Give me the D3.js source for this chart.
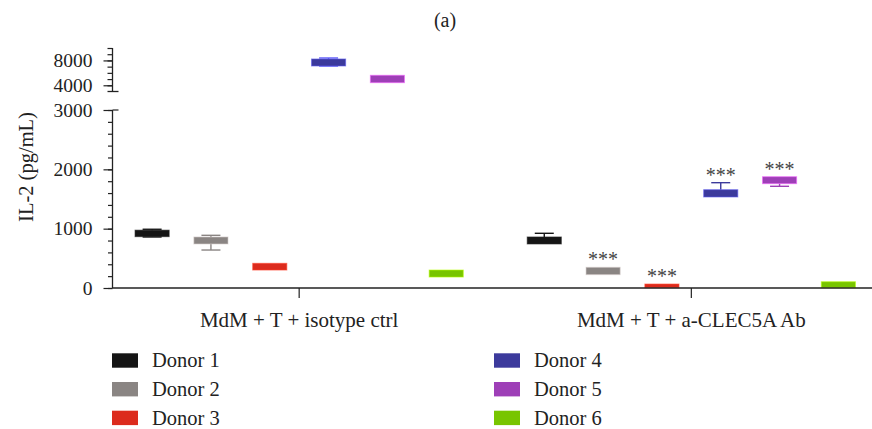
<!DOCTYPE html>
<html>
<head>
<meta charset="utf-8">
<script src="https://cdn.jsdelivr.net/npm/d3@7"></script>
<style>
  body { margin: 0; background: #fff; }
  svg { display: block; }
</style>
</head>
<body>
<svg id="chart" width="872" height="429"></svg>
<script>
// ---- data ----
const groups = ["MdM + T + isotype ctrl", "MdM + T + a-CLEC5A Ab"];
const donors = ["Donor 1", "Donor 2", "Donor 3", "Donor 4", "Donor 5", "Donor 6"];
const colors = ["#151515", "#8a8583", "#dc2b1d", "#3c3a9c", "#9e3fb7", "#78c500"];

// per group, per donor: whisker min, Q1, Q3, whisker max (pg/mL)
const wMin = [
  [860, 640, 303, 7100, 4417, 185],
  [742, 225, 5, 1534, 1714, 5]
];
const q1 = [
  [865, 742, 303, 7106, 4417, 185],
  [742, 225, 5, 1534, 1758, 5]
];
const q3 = [
  [975, 860, 416, 8233, 5609, 303],
  [860, 349, 67, 1657, 1876, 106]
];
const wMax = [
  [990, 888, 416, 8394, 5609, 303],
  [922, 349, 67, 1775, 1876, 106]
];
const signif = [
  ["", "", "", "", "", ""],
  ["", "***", "***", "***", "***", ""]
];

const lowerMajor = [0, 1000, 2000, 3000];
const lowerMinor = d3.range(0, 3001, 200);
const upperMajor = [4000, 8000];
const upperMinor = d3.range(4000, 10001, 1000);
const breakValue = 3000;

const FONT = '"Liberation Serif", "Times New Roman", Tinos, "DejaVu Serif", serif';

// ---- scales ----
const svg = d3.select("#chart");
const axisX = 112.5;
const yLow = d3.scaleLinear().domain([0, 3000]).range([288, 110]);
const yUp = d3.scaleLinear().domain([3000, 10000]).range([91.5, 48]);
const y = v => (v <= breakValue ? yLow(v) : yUp(v));

const x0 = d3.scaleBand().domain(groups).range([112.5, 878])
  .paddingInner(0.1).paddingOuter(0.026);
const x1 = d3.scaleBand().domain(donors).range([0, x0.bandwidth()])
  .paddingInner(0.42).paddingOuter(0.21);

// ---- boxes ----
const items = [];
groups.forEach((g, gi) => donors.forEach((d, di) => items.push({
  g, d, gi, di, min: wMin[gi][di], q1: q1[gi][di], q3: q3[gi][di], max: wMax[gi][di],
  sig: signif[gi][di], color: colors[di]
})));

const boxG = svg.append("g");
const capW = 19;
items.forEach(it => {
  const cx = x0(it.g) + x1(it.d) + x1.bandwidth() / 2;
  const g = boxG.append("g");
  const upper = it.q3 > breakValue;
  const wCol = upper ? d3.color(it.color).brighter(1.3) : it.color;
  if (it.max > it.q3) {
    g.append("line").attr("x1", cx).attr("x2", cx).attr("y1", y(it.max)).attr("y2", y(it.q3))
      .attr("stroke", wCol).attr("stroke-width", 1.4);
    g.append("line").attr("x1", cx - capW / 2).attr("x2", cx + capW / 2)
      .attr("y1", y(it.max)).attr("y2", y(it.max)).attr("stroke", wCol).attr("stroke-width", 1.4);
  }
  if (it.min < it.q1) {
    g.append("line").attr("x1", cx).attr("x2", cx).attr("y1", y(it.q1)).attr("y2", y(it.min))
      .attr("stroke", wCol).attr("stroke-width", 1.4);
    g.append("line").attr("x1", cx - capW / 2).attr("x2", cx + capW / 2)
      .attr("y1", y(it.min)).attr("y2", y(it.min)).attr("stroke", wCol).attr("stroke-width", 1.4);
  }
  g.append("rect")
    .attr("x", x0(it.g) + x1(it.d))
    .attr("width", x1.bandwidth())
    .attr("y", y(it.q3))
    .attr("height", Math.max(1, y(it.q1) - y(it.q3)))
    .attr("fill", it.color)
    .attr("stroke", d3.color(it.color).brighter(1.2))
    .attr("stroke-opacity", 0.6)
    .attr("stroke-width", 1);
  if (it.sig) {
    g.append("text").attr("x", cx).attr("y", y(Math.max(it.max, it.q3)) - 1)
      .attr("text-anchor", "middle").attr("font-size", 20).attr("fill", "#444")
      .text(it.sig);
  }
});

// ---- y axes ----
function styleAxis(sel) {
  sel.select(".domain").attr("stroke", "#222").attr("stroke-width", 1.3);
  sel.selectAll(".tick line").attr("stroke", "#222").attr("stroke-width", 1.2);
  sel.selectAll(".tick text").attr("font-size", 19.5).attr("fill", "#222");
}
const lowMinorG = svg.append("g").attr("transform", `translate(${axisX},0)`)
  .call(d3.axisLeft(yLow).tickValues(lowerMinor).tickSize(4.5).tickFormat(""));
styleAxis(lowMinorG);
const lowMajorG = svg.append("g").attr("transform", `translate(${axisX},0)`)
  .call(d3.axisLeft(yLow).tickValues(lowerMajor).tickSize(9).tickPadding(11).tickFormat(d3.format("d")));
styleAxis(lowMajorG);
lowMajorG.select(".domain").remove();
lowMinorG.select(".domain").attr("d", `M0,${yLow(3000)}V${yLow(0)}`);

const upMinorG = svg.append("g").attr("transform", `translate(${axisX},0)`)
  .call(d3.axisLeft(yUp).tickValues(upperMinor).tickSize(5).tickFormat(""));
styleAxis(upMinorG);
upMinorG.select(".domain").attr("d", `M0,${yUp(10000)}V${yUp(3000)}`);
const upMajorG = svg.append("g").attr("transform", `translate(${axisX},0)`)
  .call(d3.axisLeft(yUp).tickValues(upperMajor).tickSize(9).tickPadding(11).tickFormat(d3.format("d")));
styleAxis(upMajorG);
upMajorG.select(".domain").remove();

// break caps
svg.append("line").attr("x1", axisX - 5).attr("x2", axisX + 6)
  .attr("y1", yUp(breakValue)).attr("y2", yUp(breakValue)).attr("stroke", "#222").attr("stroke-width", 1.3);
svg.append("line").attr("x1", axisX).attr("x2", axisX + 6)
  .attr("y1", yLow(breakValue)).attr("y2", yLow(breakValue)).attr("stroke", "#222").attr("stroke-width", 1.2);

// ---- x axis ----
const xAxisG = svg.append("g").attr("transform", `translate(0,${yLow(0)})`)
  .call(d3.axisBottom(x0).tickSize(10).tickPadding(14).tickSizeOuter(0));
xAxisG.select(".domain").attr("d", `M${axisX},0H872`).attr("stroke", "#222").attr("stroke-width", 1.4);
xAxisG.selectAll(".tick line").attr("stroke", "#222").attr("stroke-width", 1.2);
xAxisG.selectAll(".tick text").attr("font-size", 21).attr("fill", "#222");

// ---- titles ----
svg.append("text").attr("x", 445).attr("y", 27).attr("text-anchor", "middle")
  .attr("font-size", 20).attr("fill", "#222").text("(a)");
svg.append("text").attr("transform", "translate(33,167) rotate(-90)")
  .attr("text-anchor", "middle").attr("font-size", 20.5).attr("fill", "#222").text("IL-2 (pg/mL)");

// ---- legend ----
const legCols = [112, 494];
const legTop = 353.3, legStep = 28.7;
donors.forEach((d, i) => {
  const col = Math.floor(i / 3), row = i % 3;
  const lx = legCols[col], ly = legTop + row * legStep;
  svg.append("rect").attr("x", lx).attr("y", ly).attr("width", 26).attr("height", 14.4)
    .attr("fill", colors[i]);
  svg.append("text").attr("x", lx + 40).attr("y", ly + 14)
    .attr("font-size", 20.5).attr("fill", "#222").text(d);
});

// force serif font on every text node
svg.selectAll("g").attr("font-family", null);
svg.selectAll("text").style("font-family", FONT);
</script>
</body>
</html>
